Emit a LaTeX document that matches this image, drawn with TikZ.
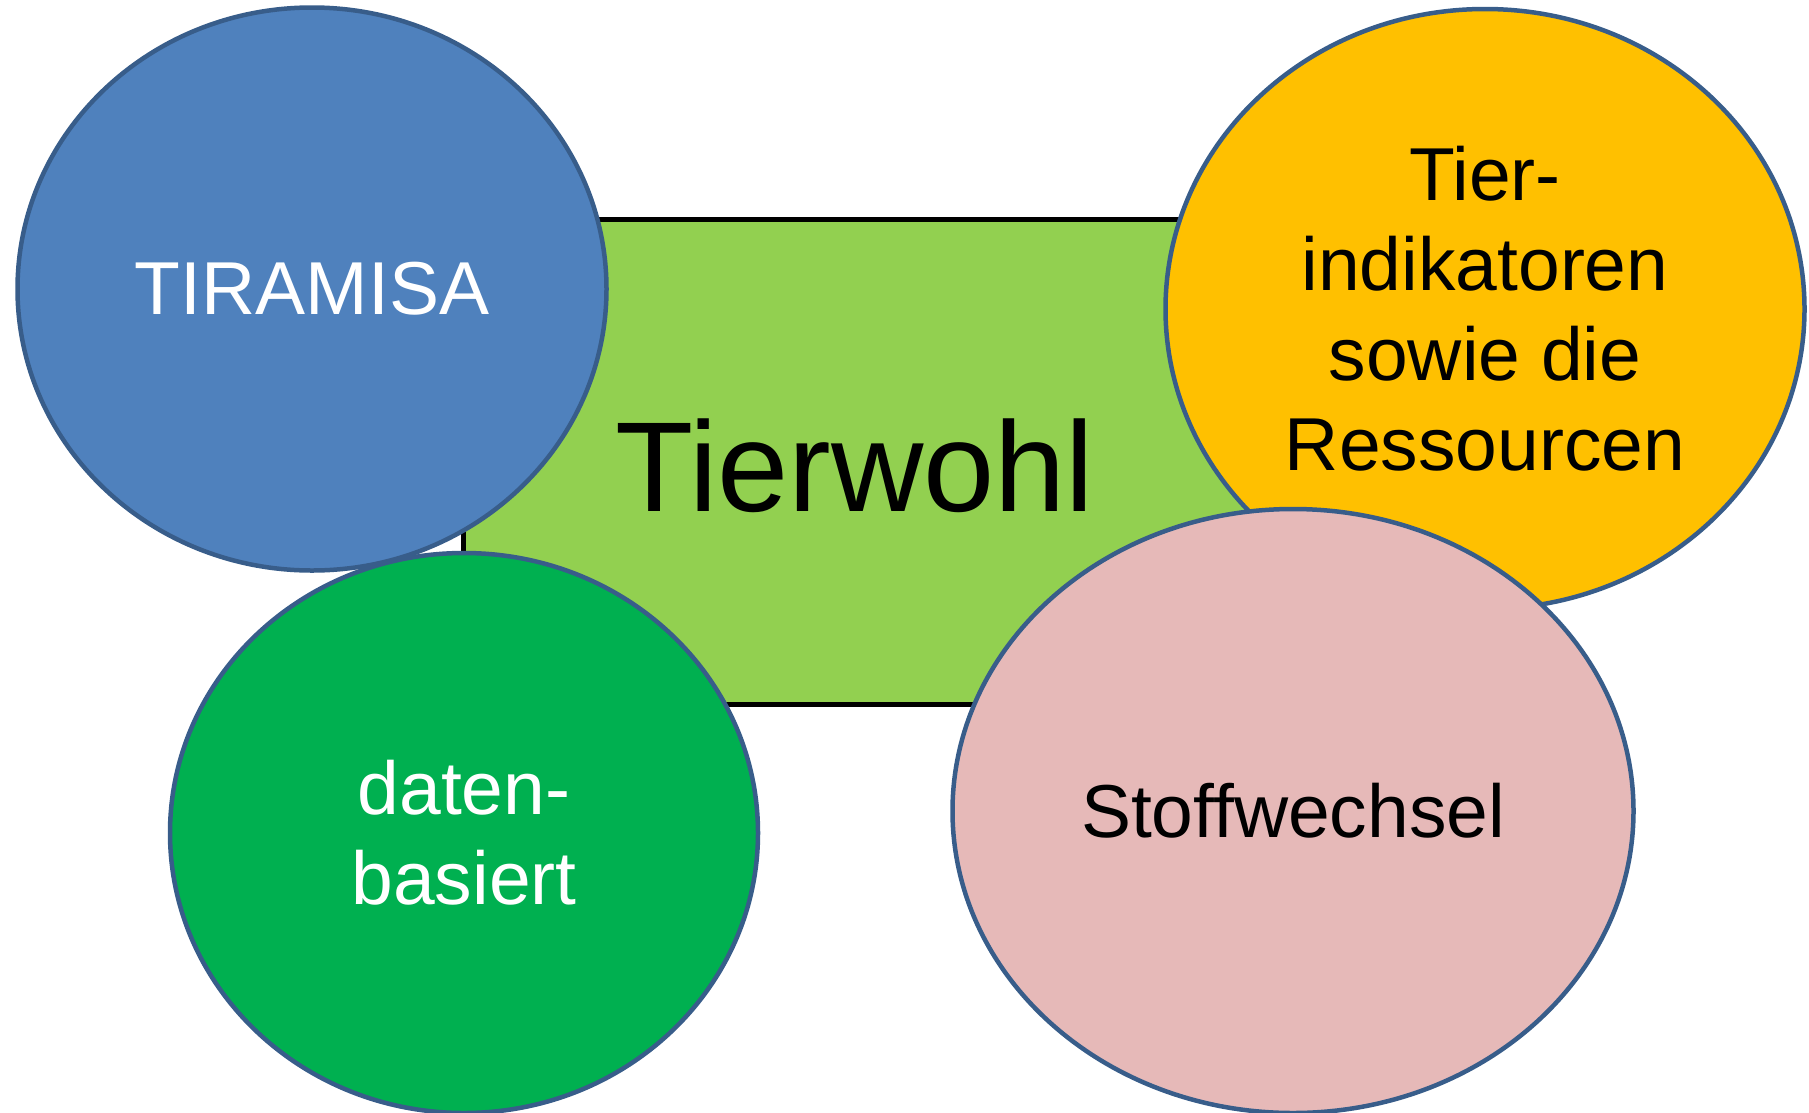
\documentclass[tikz,border=0pt]{standalone}
\usepackage{fontspec}
\setmainfont{Liberation Sans}
\usetikzlibrary{shapes.geometric}
\definecolor{cblue}{HTML}{4F81BD}
\definecolor{cborder}{HTML}{385D8A}
\definecolor{cyellow}{HTML}{FFC000}
\definecolor{cgreen}{HTML}{00B050}
\definecolor{cpink}{HTML}{E6B9B8}
\definecolor{clight}{HTML}{92D050}
\tikzset{
  bubble/.style={ellipse, draw=cborder, line width=4.5pt, inner sep=0pt, align=center,
    font=\fontsize{75}{90}\selectfont},
  centrebox/.style={rectangle, draw=black, line width=4.5pt, fill=clight, inner sep=0pt}
}
\begin{document}
\begin{tikzpicture}[x=1pt,y=-1pt]
\useasboundingbox (0,0) rectangle (1809,1112);
\node[centrebox, minimum width=837pt, minimum height=485pt] (box) at (882,462) {};
\node[font=\fontsize{128}{150}\selectfont, anchor=base] (tw) at (855,511) {Tierwohl};
\node[bubble, fill=cblue, text=white, minimum width=589pt, minimum height=563pt] (tir) at (312,289) {\raisebox{-3pt}{TIRAMISA}};
\node[bubble, fill=cyellow, minimum width=639pt, minimum height=600pt] (ind) at (1485,309) {Tier-\\indikatoren\\sowie die\\Ressourcen};
\node[bubble, fill=cgreen, text=white, minimum width=588pt, minimum height=560pt] (dat) at (464,833) {daten-\\basiert};
\node[bubble, fill=cpink, minimum width=681pt, minimum height=604pt] (sto) at (1293,811) {\raisebox{-4pt}{Stoffwechsel}};
\end{tikzpicture}
\end{document}
